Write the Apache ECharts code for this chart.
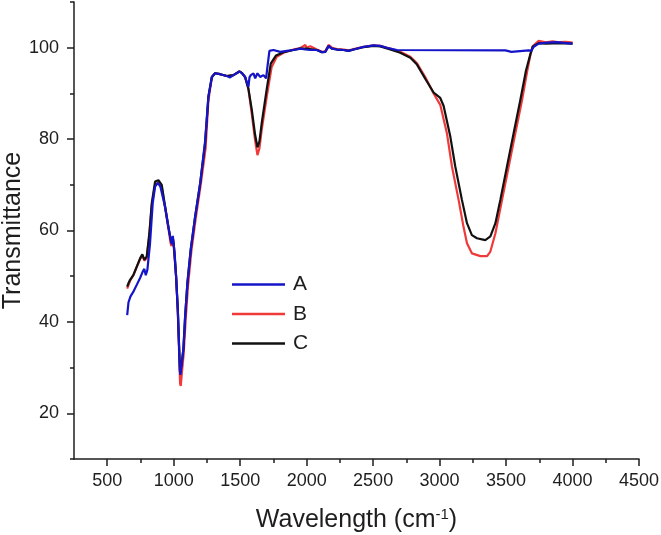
<!DOCTYPE html>
<html>
<head>
<meta charset="utf-8">
<script src="https://cdn.jsdelivr.net/npm/echarts@6/dist/echarts.min.js"></script>
<style>
  html, body { margin: 0; padding: 0; background: #fff; }
  #chart { width: 661px; height: 535px; }
</style>
</head>
<body>
<div id="chart"></div>
<script>
// [wavenumber, transmittance]
const seriesA = [[650,41.5],[660,44.3],[668,44.0],[675,45.6],[690,46.3],[700,46.8],[722,48.1],[747,49.6],[767,51.0],[779,51.6],[790,50.2],[802,51.4],[822,57.2],[842,66.0],[860,69.6],[880,70.4],[900,69.6],[935,65.2],[960,60.8],[978,57.9],[986,57.0],[993,58.8],[1000,57.0],[1008,54.5],[1018,49.9],[1031,42.6],[1040,35.0],[1046,29.5],[1050,28.4],[1058,30.2],[1073,34.1],[1086,41.2],[1103,48.5],[1128,55.8],[1161,63.0],[1199,70.3],[1236,79.5],[1261,89.3],[1287,93.6],[1311,94.4],[1349,94.2],[1399,93.8],[1424,93.5],[1449,94.0],[1494,94.8],[1512,94.5],[1537,93.6],[1552,93.2],[1562,91.4],[1570,93.5],[1580,94.0],[1600,94.4],[1613,93.3],[1630,94.4],[1650,93.6],[1675,94.0],[1695,93.3],[1705,95.8],[1720,99.3],[1750,99.5],[1801,99.1],[1851,99.3],[1901,99.5],[1951,99.8],[1990,99.6],[2027,99.5],[2077,99.5],[2115,99.0],[2140,99.1],[2165,100.4],[2190,99.8],[2228,99.6],[2278,99.5],[2315,99.3],[2353,99.6],[2428,100.2],[2503,100.5],[2553,100.4],[2603,100.0],[2679,99.5],[3495,99.4],[3500,99.1],[3540,99.1],[3548,99.4],[3670,99.4],[3683,99.0],[3690,99.3],[3708,100.2],[3745,100.9],[3808,101.1],[3884,101.2],[3950,101.0],[4000,100.9]];

const seriesB = [[650,47.3],[672,49.0],[697,50.2],[722,52.0],[747,53.7],[764,54.5],[779,53.4],[797,54.0],[817,59.0],[835,65.5],[860,70.0],[885,70.5],[910,69.4],[935,65.0],[960,60.5],[975,57.5],[982,56.6],[988,57.5],[993,58.5],[1000,56.5],[1018,50.0],[1031,42.0],[1040,34.0],[1048,26.5],[1053,26.0],[1062,29.0],[1075,33.0],[1090,40.5],[1108,48.0],[1133,55.5],[1165,62.5],[1203,70.0],[1240,78.0],[1261,88.5],[1287,93.5],[1311,94.4],[1349,94.2],[1399,93.8],[1449,94.0],[1494,94.8],[1512,94.5],[1537,93.6],[1562,91.0],[1587,85.6],[1612,79.8],[1630,76.5],[1637,76.3],[1645,78.0],[1662,82.0],[1700,89.3],[1737,95.8],[1775,98.0],[1826,98.9],[1900,99.6],[1950,99.9],[1990,100.6],[2000,100.0],[2027,100.3],[2077,99.6],[2115,99.1],[2140,99.2],[2165,100.6],[2190,100.0],[2228,99.7],[2278,99.6],[2315,99.4],[2353,99.7],[2428,100.2],[2503,100.5],[2553,100.4],[2629,99.8],[2704,99.1],[2780,98.0],[2830,96.6],[2892,93.6],[2955,90.0],[3005,87.5],[3055,81.3],[3093,74.0],[3143,66.7],[3180,60.8],[3206,57.2],[3243,55.0],[3307,54.4],[3357,54.4],[3382,55.4],[3420,59.4],[3470,66.7],[3520,74.0],[3570,81.3],[3620,88.5],[3660,95.0],[3683,98.4],[3700,100.3],[3745,101.5],[3800,101.2],[3850,101.4],[3900,101.2],[3950,101.3],[4000,101.1]];

const seriesC = [[650,47.7],[660,48.5],[672,49.2],[697,50.3],[722,52.1],[747,53.9],[764,54.8],[779,53.6],[797,54.3],[817,59.4],[835,66.0],[860,70.7],[885,71.0],[910,70.0],[935,65.3],[960,60.8],[978,57.9],[986,57.2],[993,58.6],[1003,56.1],[1018,49.9],[1031,42.6],[1040,35.0],[1048,28.8],[1058,30.5],[1073,34.1],[1086,41.2],[1103,48.5],[1128,55.8],[1161,63.0],[1199,70.3],[1236,79.0],[1261,89.3],[1287,93.6],[1311,94.4],[1349,94.2],[1399,93.8],[1449,94.0],[1494,94.8],[1512,94.5],[1537,93.6],[1562,91.0],[1587,86.5],[1612,81.0],[1630,78.2],[1637,78.0],[1645,79.5],[1662,83.5],[1700,91.0],[1730,96.5],[1770,98.3],[1826,99.0],[1900,99.5],[1950,99.8],[2000,99.8],[2077,99.5],[2115,99.0],[2140,99.1],[2165,100.3],[2190,99.8],[2228,99.6],[2278,99.5],[2315,99.3],[2353,99.6],[2428,100.1],[2503,100.4],[2553,100.3],[2629,99.6],[2704,98.9],[2780,97.8],[2830,96.3],[2892,93.2],[2955,90.2],[3005,89.0],[3030,87.3],[3081,80.5],[3118,74.0],[3168,66.7],[3206,61.6],[3243,59.0],[3281,58.3],[3344,57.9],[3382,58.7],[3420,61.6],[3457,66.7],[3507,74.0],[3557,81.3],[3607,88.5],[3650,95.0],[3683,98.6],[3700,100.2],[3745,101.0],[3800,100.9],[3900,101.0],[4000,100.9]];

const xMajor = [500,1000,1500,2000,2500,3000,3500,4000,4500];
const xMinor = [750,1250,1750,2250,2750,3250,3750,4250];
const yMajor = [20,40,60,80,100];
const yMinor = [10,30,50,70,90,110];

const ink = '#1e1e1e';
const font = 'Liberation Sans, Arial, sans-serif';

const chart = echarts.init(document.getElementById('chart'));

const baseX = {
    type: 'value', min: 250, max: 4500, position: 'bottom',
    splitLine: { show: false }
};
const baseY = {
    type: 'value', min: 10, max: 110, position: 'left',
    splitLine: { show: false }
};

chart.setOption({
    animation: false,
    grid: { left: 74, right: 22, top: 2, bottom: 76, containLabel: false, outerBoundsMode: 'none' },
    legend: {
        orient: 'vertical', left: 232, top: 274, padding: 0,
        icon: 'rect', itemWidth: 53, itemHeight: 2.5, itemGap: 8.5,
        textStyle: { fontSize: 21, color: ink, fontFamily: font, padding: [0, 0, 0, 3] },
        data: ['A', 'B', 'C']
    },
    xAxis: [
        Object.assign({}, baseX, {
            name: '{a|Wavelength (cm}{s|-1}{a|)}',
            nameLocation: 'middle', nameGap: 48, nameMoveOverlap: false,
            nameTextStyle: {
                rich: {
                    a: { fontSize: 25, color: ink, fontFamily: font },
                    s: { fontSize: 15, color: ink, fontFamily: font, padding: [0, 0, 12, 0] }
                }
            },
            axisLine: { show: true, lineStyle: { color: ink, width: 1.5 } },
            axisTick: { show: true, customValues: xMajor, length: 7, lineStyle: { color: ink, width: 1.5 } },
            axisLabel: { customValues: xMajor, margin: 13, fontSize: 18, color: ink, fontFamily: font,
                         formatter: v => String(v) }
        }),
        Object.assign({}, baseX, {
            axisLine: { show: false },
            axisTick: { show: true, customValues: xMinor, length: 4, lineStyle: { color: ink, width: 1.5 } },
            axisLabel: { show: false }
        })
    ],
    yAxis: [
        Object.assign({}, baseY, {
            name: 'Transmittance',
            nameLocation: 'middle', nameGap: 48, nameMoveOverlap: false,
            nameTextStyle: { fontSize: 25, color: ink, fontFamily: font },
            axisLine: { show: true, lineStyle: { color: ink, width: 1.5 } },
            axisTick: { show: true, customValues: yMajor, length: 7, lineStyle: { color: ink, width: 1.5 } },
            axisLabel: { customValues: yMajor, margin: 15, fontSize: 18, color: ink, fontFamily: font,
                         formatter: v => String(v) }
        }),
        Object.assign({}, baseY, {
            axisLine: { show: false },
            axisTick: { show: true, customValues: yMinor, length: 4, lineStyle: { color: ink, width: 1.5 } },
            axisLabel: { show: false }
        })
    ],
    series: [
        { name: 'B', type: 'line', data: seriesB, showSymbol: false, symbol: 'none',
          color: '#f03a3a', lineStyle: { width: 2.2 }, z: 2 },
        { name: 'C', type: 'line', data: seriesC, showSymbol: false, symbol: 'none',
          color: '#111111', lineStyle: { width: 2.2 }, z: 3 },
        { name: 'A', type: 'line', data: seriesA, showSymbol: false, symbol: 'none',
          color: '#1414c8', lineStyle: { width: 2.2 }, z: 4 }
    ]
});

window.addEventListener('resize', () => {
    chart.resize();
});
</script>
</body>
</html>
